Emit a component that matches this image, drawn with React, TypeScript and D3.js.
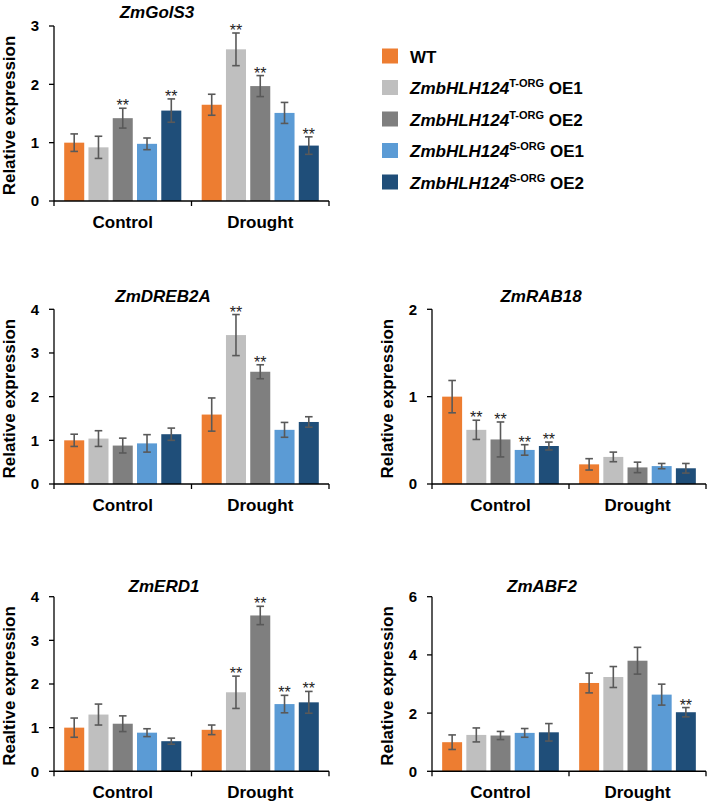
import React from "react";
import * as d3 from "d3";

// ---------- data ----------
const groups = ["Control", "Drought"];
const seriesKeys = ["WT", "TOE1", "TOE2", "SOE1", "SOE2"];
const seriesColors = ["#ED7D31", "#BFBFBF", "#7F7F7F", "#5B9BD5", "#1F4E79"];
const legendBase = ["WT", "ZmbHLH124", "ZmbHLH124", "ZmbHLH124", "ZmbHLH124"];
const legendSup = ["", "T-ORG", "T-ORG", "S-ORG", "S-ORG"];
const legendSuffix = ["", " OE1", " OE2", " OE1", " OE2"];

// values: [Control x5, Drought x5]
const golS3Mean = [1.0, 0.92, 1.42, 0.98, 1.55, 1.65, 2.6, 1.97, 1.51, 0.95];
const golS3Err = [0.15, 0.19, 0.17, 0.1, 0.2, 0.18, 0.28, 0.18, 0.18, 0.15];
const golS3Sig = [0, 0, 1, 0, 1, 0, 1, 1, 0, 1];

const dreb2aMean = [1.0, 1.04, 0.88, 0.93, 1.14, 1.59, 3.41, 2.57, 1.24, 1.42];
const dreb2aErr = [0.14, 0.18, 0.17, 0.2, 0.14, 0.38, 0.47, 0.16, 0.17, 0.12];
const dreb2aSig = [0, 0, 0, 0, 0, 0, 1, 1, 0, 0];

const rab18Mean = [1.0, 0.62, 0.51, 0.39, 0.435, 0.225, 0.31, 0.19, 0.205, 0.18];
const rab18Err = [0.185, 0.11, 0.2, 0.06, 0.045, 0.065, 0.055, 0.06, 0.03, 0.055];
const rab18Sig = [0, 1, 1, 1, 1, 0, 0, 0, 0, 0];

const erd1Mean = [1.0, 1.3, 1.09, 0.885, 0.69, 0.95, 1.81, 3.57, 1.54, 1.58];
const erd1Err = [0.22, 0.24, 0.18, 0.09, 0.07, 0.11, 0.37, 0.21, 0.2, 0.25];
const erd1Sig = [0, 0, 0, 0, 0, 0, 1, 1, 1, 1];

const abf2Mean = [1.0, 1.25, 1.23, 1.32, 1.34, 3.035, 3.24, 3.8, 2.635, 2.03];
const abf2Err = [0.25, 0.24, 0.14, 0.15, 0.3, 0.34, 0.36, 0.46, 0.36, 0.16];
const abf2Sig = [0, 0, 0, 0, 0, 0, 0, 0, 0, 1];

const golS3Ticks = [0, 1, 2, 3];
const dreb2aTicks = [0, 1, 2, 3, 4];
const rab18Ticks = [0, 1, 2];
const erd1Ticks = [0, 1, 2, 3, 4];
const abf2Ticks = [0, 2, 4, 6];

// ---------- layout ----------
const panels = [
  { title: "ZmGolS3", ylabel: "Relative expression", mean: golS3Mean, err: golS3Err, sig: golS3Sig, ticks: golS3Ticks,
    x0: 54, x1: 329, yTop: 26, yBot: 201, titleX: 157, titleY: 18 },
  { title: "ZmDREB2A", ylabel: "Relative expression", mean: dreb2aMean, err: dreb2aErr, sig: dreb2aSig, ticks: dreb2aTicks,
    x0: 54, x1: 329, yTop: 309.3, yBot: 484, titleX: 163, titleY: 302 },
  { title: "ZmRAB18", ylabel: "Relative expression", mean: rab18Mean, err: rab18Err, sig: rab18Sig, ticks: rab18Ticks,
    x0: 432, x1: 706, yTop: 309.3, yBot: 484, titleX: 541, titleY: 302 },
  { title: "ZmERD1", ylabel: "Realtive expression", mean: erd1Mean, err: erd1Err, sig: erd1Sig, ticks: erd1Ticks,
    x0: 54, x1: 329, yTop: 596.7, yBot: 771.3, titleX: 164, titleY: 592 },
  { title: "ZmABF2", ylabel: "Relative expression", mean: abf2Mean, err: abf2Err, sig: abf2Sig, ticks: abf2Ticks,
    x0: 432, x1: 706, yTop: 596.7, yBot: 771.3, titleX: 542, titleY: 592 },
];

const FONT = "'Liberation Sans', Arial, sans-serif";
const ERR_COLOR = "#595959";

function Panel({ p }: { p: any }) {
  const yMax = p.ticks[p.ticks.length - 1];
  const y = d3.scaleLinear().domain([0, yMax]).range([p.yBot, p.yTop]);
  const gx = d3.scaleBand<string>().domain(groups).range([p.x0, p.x1]).paddingInner(0).paddingOuter(0);
  const bx = d3.scaleBand<string>().domain(seriesKeys).range([0, gx.bandwidth()]).paddingInner(0.175).paddingOuter(0.42);
  const bw = bx.bandwidth();
  const cap = 3.8;
  const axisCenterY = (p.yTop + p.yBot) / 2;
  return (
    <g>
      <text x={p.titleX} y={p.titleY} textAnchor="middle" fontFamily={FONT} fontSize={17} fontWeight="bold" fontStyle="italic" fill="#000">
        {p.title}
      </text>
      <text transform={`translate(${p.x0 - 39},${axisCenterY + 2}) rotate(-90)`} textAnchor="middle" fontFamily={FONT} fontSize={17} fontWeight="bold" fill="#000">
        {p.ylabel}
      </text>
      {groups.map((g, gi) =>
        seriesKeys.map((s, si) => {
          const idx = gi * seriesKeys.length + si;
          const v = p.mean[idx];
          const e = p.err[idx];
          const xb = (gx(g) as number) + (bx(s) as number);
          const cx = xb + bw / 2;
          return (
            <g key={`${g}-${s}`}>
              <rect x={xb} y={y(v)} width={bw} height={p.yBot - y(v)} fill={seriesColors[si]} />
              <line x1={cx} x2={cx} y1={y(v + e)} y2={y(v - e)} stroke={ERR_COLOR} strokeWidth={1.6} />
              <line x1={cx - cap} x2={cx + cap} y1={y(v + e)} y2={y(v + e)} stroke={ERR_COLOR} strokeWidth={1.6} />
              <line x1={cx - cap} x2={cx + cap} y1={y(v - e)} y2={y(v - e)} stroke={ERR_COLOR} strokeWidth={1.6} />
              {p.sig[idx] ? (
                <text x={cx} y={y(v + e) + 3} textAnchor="middle" fontFamily={FONT} fontSize={16} fill="#222">
                  **
                </text>
              ) : null}
            </g>
          );
        })
      )}
      {/* y axis */}
      <line x1={p.x0} x2={p.x0} y1={p.yTop} y2={p.yBot} stroke="#000" strokeWidth={1.3} />
      {p.ticks.map((t: number) => (
        <g key={t}>
          <line x1={p.x0 - 5} x2={p.x0} y1={y(t)} y2={y(t)} stroke="#000" strokeWidth={1.3} />
          <text x={p.x0 - 15} y={y(t)} dy="0.36em" textAnchor="end" fontFamily={FONT} fontSize={15} fontWeight="bold" fill="#000">
            {t}
          </text>
        </g>
      ))}
      {/* x axis */}
      <line x1={p.x0} x2={p.x1} y1={p.yBot} y2={p.yBot} stroke="#000" strokeWidth={1.5} />
      {[p.x0, (gx("Drought") as number), p.x1].map((xx: number, i: number) => (
        <line key={i} x1={xx} x2={xx} y1={p.yBot} y2={p.yBot + 5} stroke="#000" strokeWidth={1.3} />
      ))}
      {groups.map((g) => (
        <text key={g} x={(gx(g) as number) + gx.bandwidth() / 2} y={p.yBot + 27} textAnchor="middle" fontFamily={FONT} fontSize={17} fontWeight="bold" fill="#000">
          {g}
        </text>
      ))}
    </g>
  );
}

function Legend() {
  const lx = 382;
  const rowY = d3.scaleLinear().domain([0, 4]).range([56, 182]);
  return (
    <g>
      {seriesKeys.map((s, i) => (
        <g key={s}>
          <rect x={lx} y={rowY(i) - 7.5} width={16} height={15} fill={seriesColors[i]} />
          <text x={lx + 28} y={rowY(i) + 6.5} fontFamily={FONT} fontSize={17} fontWeight="bold" fill="#000">
            <tspan fontStyle={i === 0 ? "normal" : "italic"}>{legendBase[i]}</tspan>
            {legendSup[i] ? (
              <tspan fontSize={11} dy={-7}>{legendSup[i]}</tspan>
            ) : null}
            {legendSuffix[i] ? (
              <tspan dy={7}>{legendSuffix[i]}</tspan>
            ) : null}
          </text>
        </g>
      ))}
    </g>
  );
}

export default function App() {
  return (
    <svg width={709} height={805} style={{ position: "absolute", left: 0, top: 0, background: "#fff" }}>
      <rect width={709} height={805} fill="#fff" />
      {panels.map((p) => (
        <Panel key={p.title} p={p} />
      ))}
      <Legend />
    </svg>
  );
}
